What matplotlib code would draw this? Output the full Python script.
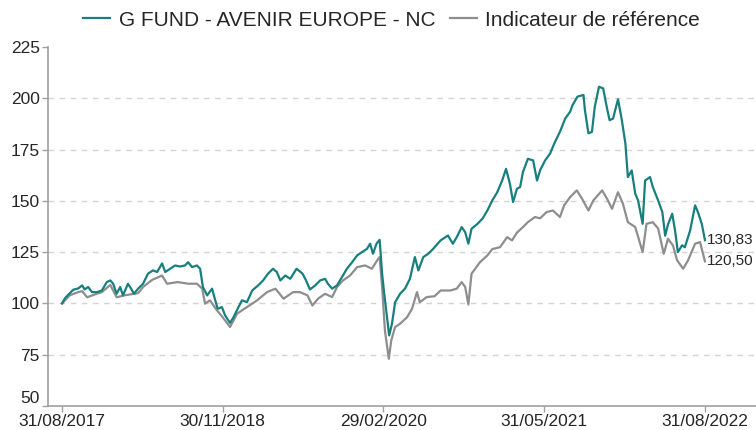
import matplotlib
matplotlib.use("Agg")
import matplotlib.pyplot as plt
import matplotlib.dates as mdates
import pandas as pd

plt.rcParams['font.family'] = ['Liberation Sans', 'DejaVu Sans']

# G FUND - AVENIR EUROPE - NC, base 100
fund_dates = [
    "2017-08-31", "2017-09-08", "2017-09-22", "2017-10-02", "2017-10-16", "2017-10-27",
    "2017-11-03", "2017-11-13", "2017-11-24", "2017-12-08", "2017-12-22", "2018-01-05",
    "2018-01-15", "2018-01-23", "2018-02-02", "2018-02-12", "2018-02-20", "2018-03-06",
    "2018-03-15", "2018-03-23", "2018-04-04", "2018-04-18", "2018-05-02", "2018-05-16",
    "2018-05-28", "2018-06-11", "2018-06-20", "2018-07-04", "2018-07-18", "2018-08-01",
    "2018-08-15", "2018-08-24", "2018-09-04", "2018-09-18", "2018-09-27", "2018-10-05",
    "2018-10-17", "2018-10-31", "2018-11-09", "2018-11-16", "2018-11-28", "2018-12-07",
    "2018-12-21", "2018-12-31", "2019-01-14", "2019-01-24", "2019-02-07", "2019-02-22",
    "2019-03-11", "2019-03-25", "2019-04-08", "2019-04-22", "2019-05-03", "2019-05-13",
    "2019-05-27", "2019-06-10", "2019-06-28", "2019-07-15", "2019-07-25", "2019-08-05",
    "2019-08-20", "2019-09-03", "2019-09-17", "2019-09-25", "2019-10-07", "2019-10-21",
    "2019-11-04", "2019-11-18", "2019-12-03", "2019-12-17", "2019-12-31", "2020-01-14",
    "2020-01-23", "2020-01-31", "2020-02-10", "2020-02-19", "2020-02-26", "2020-03-02",
    "2020-03-11", "2020-03-17", "2020-03-25", "2020-04-03", "2020-04-17", "2020-05-01",
    "2020-05-15", "2020-05-29", "2020-06-08", "2020-06-22", "2020-07-06", "2020-07-20",
    "2020-08-10", "2020-08-24", "2020-08-31", "2020-09-14", "2020-09-25", "2020-10-09",
    "2020-10-19", "2020-10-28", "2020-11-06", "2020-11-23", "2020-12-07", "2020-12-21",
    "2021-01-04", "2021-01-18", "2021-02-01", "2021-02-12", "2021-02-23", "2021-03-04",
    "2021-03-15", "2021-03-24", "2021-04-01", "2021-04-15", "2021-04-30", "2021-05-11",
    "2021-05-20", "2021-06-03", "2021-06-17", "2021-07-01", "2021-07-15", "2021-07-30",
    "2021-08-13", "2021-08-20", "2021-09-03", "2021-09-20", "2021-09-24", "2021-10-04",
    "2021-10-14", "2021-10-22", "2021-11-03", "2021-11-15", "2021-11-23", "2021-12-03",
    "2021-12-13", "2021-12-27", "2022-01-07", "2022-01-17", "2022-01-24", "2022-02-04",
    "2022-02-14", "2022-02-22", "2022-03-07", "2022-03-14", "2022-03-28", "2022-04-05",
    "2022-04-20", "2022-05-02", "2022-05-10", "2022-05-18", "2022-05-30", "2022-06-07",
    "2022-06-15", "2022-06-27", "2022-07-05", "2022-07-20", "2022-08-03", "2022-08-11",
    "2022-08-22", "2022-08-31",
]
fund_values = [
    100.0, 102.5, 105.0, 106.7, 107.3, 108.8,
    106.8, 108.0, 105.5, 105.5, 106.3, 110.4,
    111.2, 109.6, 104.7, 108.0, 103.9, 109.6,
    107.2, 104.7, 107.2, 109.6, 114.5, 116.1,
    115.3, 119.5, 115.3, 116.9, 118.5, 118.0,
    118.5, 120.1, 117.7, 118.5, 116.9, 108.0,
    103.9, 107.2, 101.5, 97.4, 98.2, 94.2,
    90.5, 93.3, 98.2, 101.5, 100.6, 106.3,
    108.8, 111.2, 114.5, 116.9, 115.3, 111.2,
    113.6, 112.0, 116.9, 114.5, 111.2, 106.8,
    108.8, 111.2, 112.0, 109.6, 107.2, 108.8,
    112.8, 116.9, 120.1, 123.4, 125.0, 126.6,
    129.1, 124.2, 129.1, 131.0, 114.5, 106.3,
    93.3, 84.4, 90.1, 100.6, 104.7, 107.2,
    112.0, 122.6, 116.1, 122.6, 124.2, 126.6,
    130.7, 132.3, 133.1, 129.1, 132.3, 137.2,
    134.7, 129.1, 136.4, 138.8, 141.3, 145.3,
    150.2, 154.2, 159.9, 165.6, 158.3, 149.4,
    155.9, 156.7, 164.0, 170.5, 169.7, 159.9,
    165.0, 169.7, 173.0, 178.7, 183.6, 190.1,
    193.4, 196.7, 200.8, 201.6, 194.3, 182.9,
    183.6, 195.8, 205.6, 204.8, 197.5, 189.3,
    190.1, 199.5, 189.3, 177.9, 161.6, 164.8,
    153.5, 150.2, 138.8, 159.9, 161.6, 156.7,
    150.2, 144.5, 133.0, 138.5, 143.7, 135.6,
    125.0, 128.3, 127.4, 135.6, 147.8, 144.5,
    138.8, 130.83,
]

# Indicateur de référence, base 100
ref_dates = [
    "2017-08-31", "2017-09-22", "2017-10-16", "2017-10-27", "2017-11-10", "2017-12-04",
    "2017-12-22", "2018-01-15", "2018-02-02", "2018-02-26", "2018-04-04", "2018-04-18",
    "2018-05-14", "2018-06-11", "2018-06-25", "2018-07-26", "2018-08-24", "2018-09-18",
    "2018-10-03", "2018-10-11", "2018-10-25", "2018-11-14", "2018-11-30", "2018-12-21",
    "2019-01-10", "2019-02-07", "2019-03-08", "2019-04-05", "2019-04-29", "2019-05-22",
    "2019-06-18", "2019-07-08", "2019-07-29", "2019-08-12", "2019-08-28", "2019-09-17",
    "2019-10-07", "2019-10-21", "2019-11-07", "2019-11-27", "2019-12-17", "2020-01-09",
    "2020-01-28", "2020-02-12", "2020-02-19", "2020-02-26", "2020-03-05", "2020-03-16",
    "2020-03-23", "2020-04-03", "2020-04-17", "2020-05-07", "2020-05-21", "2020-06-04",
    "2020-06-12", "2020-07-02", "2020-07-24", "2020-08-10", "2020-09-07", "2020-09-25",
    "2020-10-09", "2020-10-19", "2020-10-28", "2020-11-06", "2020-11-30", "2020-12-21",
    "2021-01-04", "2021-01-26", "2021-02-15", "2021-03-01", "2021-03-15", "2021-04-01",
    "2021-04-15", "2021-05-05", "2021-05-20", "2021-06-07", "2021-06-25", "2021-07-15",
    "2021-07-27", "2021-08-13", "2021-09-01", "2021-09-16", "2021-10-04", "2021-10-18",
    "2021-11-12", "2021-11-26", "2021-12-10", "2021-12-27", "2022-01-10", "2022-01-24",
    "2022-02-14", "2022-03-07", "2022-03-18", "2022-04-05", "2022-04-20", "2022-05-06",
    "2022-05-18", "2022-06-01", "2022-06-13", "2022-06-30", "2022-07-14", "2022-08-03",
    "2022-08-17", "2022-08-31",
]
ref_values = [
    100.0, 104.0, 105.5, 106.0, 103.0, 104.5,
    105.5, 109.0, 103.0, 104.0, 105.0, 108.0,
    111.5, 113.6, 109.6, 110.4, 109.6, 109.6,
    107.2, 99.9, 101.5, 96.6, 93.3, 88.5,
    95.0, 98.2, 101.5, 105.5, 107.2, 102.3,
    105.5, 105.5, 103.9, 99.0, 102.3, 104.7,
    103.1, 108.0, 111.2, 113.6, 117.7, 118.5,
    116.9, 121.0, 122.6, 108.0, 86.8, 73.0,
    82.0, 88.5, 90.1, 93.3, 97.4, 105.5,
    100.6, 103.1, 103.5, 106.3, 106.3, 107.2,
    110.4, 108.0, 99.5, 114.5, 120.1, 123.4,
    126.5, 127.4, 132.3, 130.7, 134.5, 137.2,
    139.6, 142.1, 141.5, 144.5, 145.3, 142.1,
    147.8, 151.8, 155.1, 151.0, 145.3, 150.2,
    155.1, 151.0, 146.1, 154.2, 148.6, 139.6,
    137.2, 125.0, 138.8, 139.6, 136.5, 124.2,
    131.5, 128.3, 121.0, 116.9, 121.0, 129.1,
    129.9, 120.50,
]

fund_label = "G FUND - AVENIR EUROPE - NC"
ref_label = "Indicateur de référence"
tick_dates = ["2017-08-31", "2018-11-30", "2020-02-29", "2021-05-31", "2022-08-31"]
y_ticks = [50, 75, 100, 125, 150, 175, 200, 225]

teal = "#17807e"
grey = "#8e8e8e"
axis_grey = "#a0a0a0"
text_col = "#262626"

fund_x = pd.to_datetime(fund_dates)
ref_x = pd.to_datetime(ref_dates)
ticks_x = pd.to_datetime(tick_dates)

fig = plt.figure(figsize=(7.56, 4.30), dpi=100)
ax = fig.add_axes([0.0635, 0.0558, 0.9365, 0.835])

ax.plot(ref_x, ref_values, color=grey, lw=1.6, label=ref_label, zorder=2)
ax.plot(fund_x, fund_values, color=teal, lw=1.6, label=fund_label, zorder=3)

ax.set_ylim(50, 225)
ax.set_yticks(y_ticks)
ax.set_xlim(fund_x[0] - pd.Timedelta(days=40), fund_x[-1] + pd.Timedelta(days=145))
ax.set_xticks(ticks_x)
ax.xaxis.set_major_formatter(mdates.DateFormatter("%d/%m/%Y"))

ax.grid(axis="y", color="#d3d3d3", linestyle=(0, (4, 4)), lw=1.0)
ax.get_ygridlines()[-1].set_visible(False)
ax.get_ygridlines()[0].set_visible(False)
ax.set_axisbelow(True)

for side in ("top", "right"):
    ax.spines[side].set_visible(False)
for side in ("left", "bottom"):
    ax.spines[side].set_color(axis_grey)
    ax.spines[side].set_linewidth(1.2)
ax.tick_params(axis="both", colors=axis_grey, length=4, width=1.0,
               labelsize=12.5, labelcolor=text_col)
ax.tick_params(axis="x", pad=2)
ax.tick_params(axis="y", pad=2)
# lift the lowest y label a little so it clears the first date
ax.get_yticklabels()[0].set_verticalalignment("bottom")

# last values written next to the line ends
ax.annotate(f"{fund_values[-1]:.2f}".replace(".", ","), (fund_x[-1], fund_values[-1]),
            xytext=(1.5, 0), textcoords="offset points", va="center", ha="left",
            fontsize=11, color=text_col)
ax.annotate(f"{ref_values[-1]:.2f}".replace(".", ","), (ref_x[-1], ref_values[-1]),
            xytext=(1.5, 0), textcoords="offset points", va="center", ha="left",
            fontsize=11, color=text_col)

handles, labels = ax.get_legend_handles_labels()
fig.legend(handles[::-1], labels[::-1], loc="center", bbox_to_anchor=(0.518, 0.953),
           ncol=2, frameon=False, fontsize=15, handlelength=1.3, handletextpad=0.4,
           columnspacing=0.7, labelcolor=text_col)

fig.savefig("out.png", dpi=100)
